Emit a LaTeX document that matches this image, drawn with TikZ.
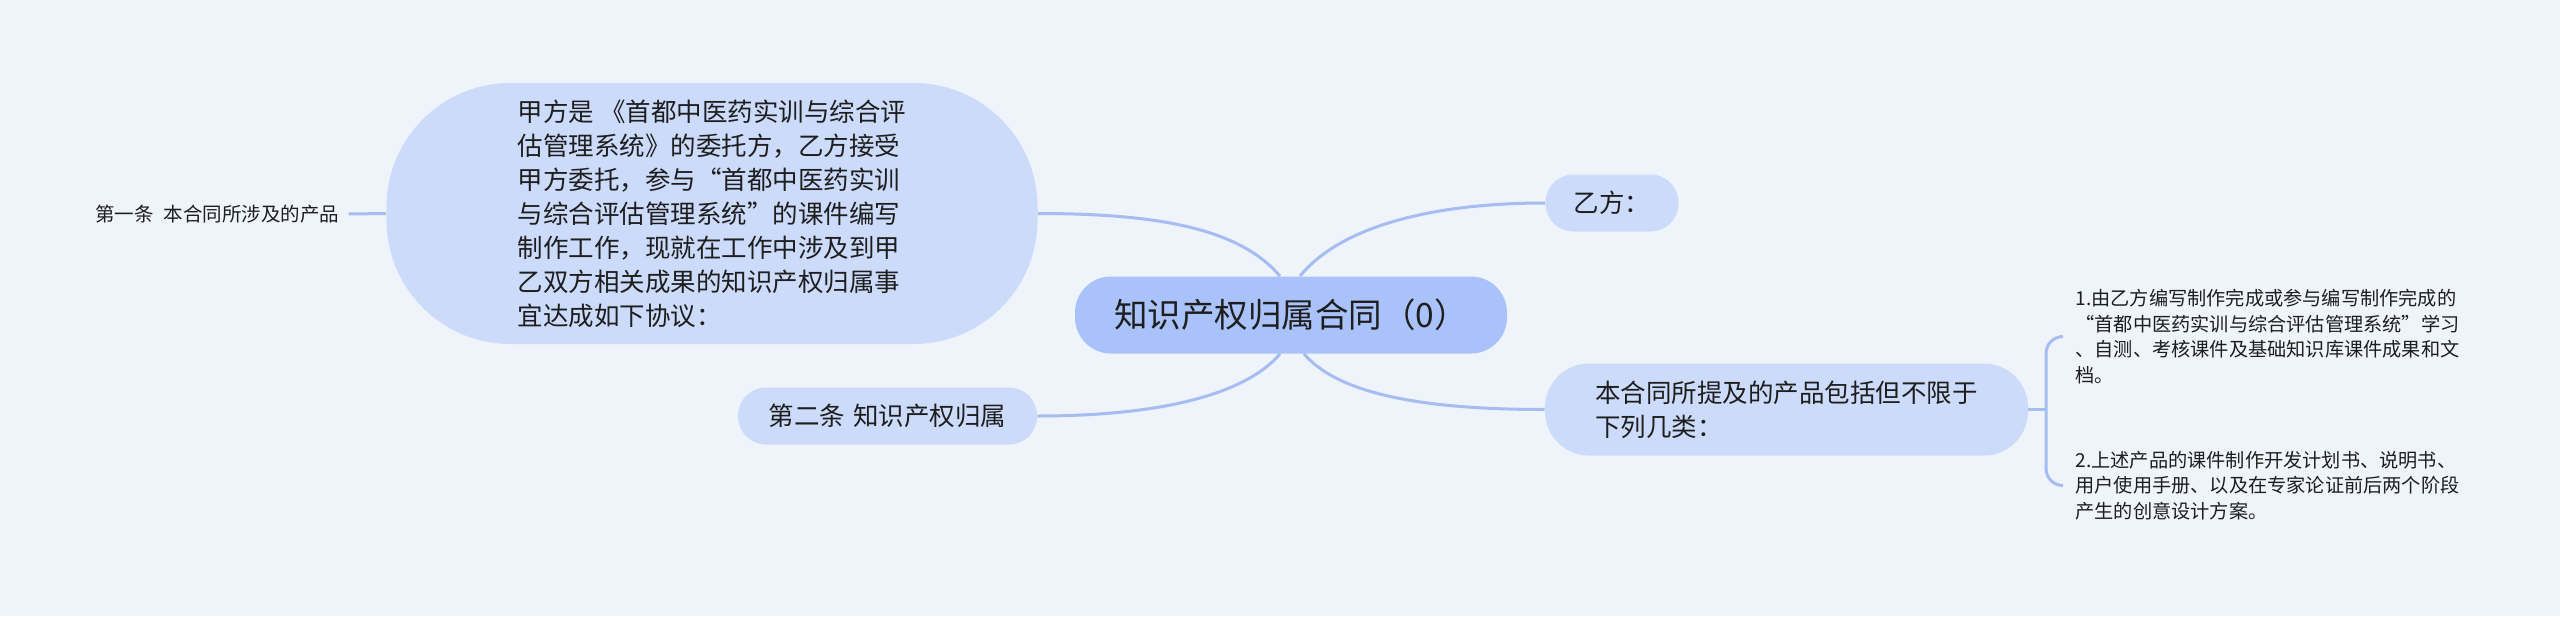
\documentclass[tikz,border=0pt]{standalone}
\usepackage{fontspec}
\setmainfont{Noto Sans CJK SC}
\definecolor{bg}{RGB}{239,243,250}
\definecolor{rootc}{RGB}{169,194,249}
\definecolor{lvl}{RGB}{204,219,250}
\definecolor{linec}{RGB}{165,189,240}
\definecolor{txt}{RGB}{30,30,30}
\newcommand{\fwq}[1]{{\addfontfeature{CharacterWidth=Full}#1}}
\begin{document}
\begin{tikzpicture}[x=0.5pt,y=-0.5pt,
  conn/.style={draw=linec, line width=1.5pt},
  box/.style={fill=lvl, inner sep=0pt, text=txt, align=left,
    font=\fontsize{12.75pt}{17pt}\selectfont},
  leaf/.style={inner xsep=6pt, inner ysep=0pt, text=txt, align=left, anchor=west,
    font=\fontsize{9.6pt}{12.75pt}\selectfont}]
\fill[bg] (0,0) rectangle (2560,616);
\useasboundingbox (0,0) rectangle (2560,616);

\node[fill=rootc, rounded corners=18pt, minimum width=216pt, minimum height=38.5pt,
  inner sep=0pt, text=txt, font=\fontsize{16.75pt}{20pt}\selectfont] (c) at (1291,315) {知识产权归属合同（0）};

\node[box, rounded corners=62pt, minimum width=325.5pt, minimum height=130.5pt] (a) at (712,213.5)
  {甲方是 《首都中医药实训与综合评\\估管理系统》的委托方，乙方接受\\甲方委托，参与“首都中医药实训\\与综合评估管理系统”的课件编写\\制作工作，现就在工作中涉及到甲\\乙双方相关成果的知识产权归属事\\宜达成如下协议：};

\node[anchor=west, inner xsep=4.5pt, inner ysep=0pt, text=txt,
  font=\fontsize{9.75pt}{12pt}\selectfont] (a0) at (86,214) {第一条\hspace{0.5em}本合同所涉及的产品};

\node[box, rounded corners=14pt, minimum width=149.5pt, minimum height=28.5pt] (b) at (887.5,416) {第二条\hspace{0.3em}知识产权归属};
\node[box, rounded corners=14pt, minimum width=66.5pt, minimum height=28.5pt] (d) at (1612,203) {乙方：};
\node[box, rounded corners=22pt, minimum width=241.5pt, minimum height=46pt] (e) at (1786.5,409.5)
  {本合同所提及的产品包括但不限于\\下列几类：};

\node[leaf] (e1) at (2063,336.5) {1.由乙方编写制作完成或参与编写制作完成的\\\fwq{“}首都中医药实训与综合评估管理系统\fwq{”}学习\\、自测、考核课件及基础知识库课件成果和文\\档。};
\node[leaf] (e2) at (2063,485.5) {2.上述产品的课件制作开发计划书、说明书、\\用户使用手册、以及在专家论证前后两个阶段\\产生的创意设计方案。};

\coordinate (br) at (2046,409.5);

\draw[conn] (a0.east) -- (a.west);
\draw[conn] ([xshift=-5.5pt]c.north) .. controls +(-40,-47) and +(122,0) .. (a.east);
\draw[conn] ([xshift=4.5pt]c.north) .. controls +(40,-49) and +(-115,0) .. (d.west);
\draw[conn] ([xshift=-5.5pt]c.south) .. controls +(-35,41) and +(122,0) .. (b.east);
\draw[conn] ([xshift=6.5pt]c.south) .. controls +(36,42) and +(-115,0) .. (e.west);
\draw[conn] (e.east) -- (br);
\draw[conn, rounded corners=8.5pt] (e1.west) -| (br) |- (e2.west);
\end{tikzpicture}
\end{document}
